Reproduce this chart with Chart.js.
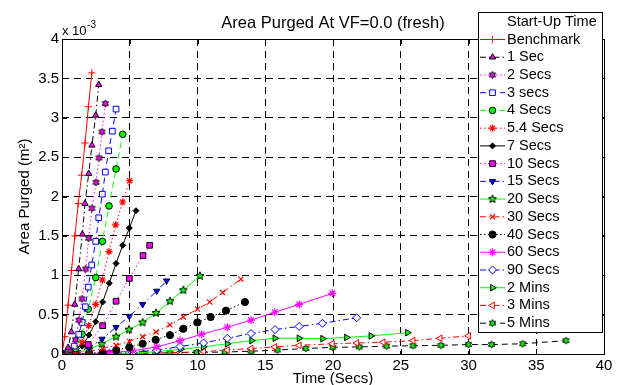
<!DOCTYPE html>
<html><head><meta charset="utf-8">
<script src="https://cdn.jsdelivr.net/npm/chart.js@4.4.0/dist/chart.umd.min.js"></script>
<style>html,body{margin:0;padding:0;background:#fff}</style>
</head><body>
<canvas id="c" width="619" height="385"></canvas>
<script>
// ---- data (y in units of 1e-3 m^2, x in seconds) ----
const xTicks = [0,5,10,15,20,25,30,35,40];
const yTicks = [0,0.5,1,1.5,2,2.5,3,3.5,4];
const xTickLabels = ['0','5','10','15','20','25','30','35','40'];
const yTickLabels = ['0','0.5','1','1.5','2','2.5','3','3.5','4'];
const seriesLabels = ['Benchmark','1 Sec','2 Secs','3 secs','4 Secs','5.4 Secs','7 Secs','10 Secs','15 Secs','20 Secs','30 Secs','40 Secs','60 Secs','90 Secs','2 Mins','3 Mins','5 Mins'];

const benchX = [0,0.2,0.45,0.7,0.95,1.2,1.45,1.7,1.95,2.2];
const benchY = [0,0.22,0.62,1.06,1.5,1.91,2.27,2.68,3.14,3.57];
const s1X = [0,0.45,0.69,0.94,1.23,1.5,1.7,1.97,2.21,2.49,2.71];
const s1Y = [0,0.08,0.28,0.63,1.08,1.52,1.91,2.29,2.65,3.03,3.42];
const s2X = [0,0.6,1.0,1.25,1.48,1.75,1.97,2.21,2.51,2.73,2.95,3.2];
const s2Y = [0,0.05,0.18,0.43,0.70,1.08,1.47,1.85,2.18,2.49,2.82,3.18];
const s3X = [0,0.9,1.23,1.48,1.72,1.94,2.19,2.49,2.71,2.98,3.2,3.44,3.72,3.99];
const s3Y = [0,0.1,0.25,0.40,0.60,0.85,1.13,1.43,1.73,2.03,2.31,2.58,2.83,3.11];
const s4X = [0,1.0,1.48,1.94,2.49,2.98,3.47,3.99,4.48];
const s4Y = [0,0.07,0.25,0.57,0.97,1.43,1.88,2.35,2.79];
const s54X = [0,1.0,1.48,1.97,2.49,2.98,3.47,3.96,4.48,4.99];
const s54Y = [0,0.04,0.15,0.36,0.63,0.94,1.30,1.64,1.93,2.20];
const s7X = [0,1.0,1.5,1.99,2.49,3.0,3.49,3.99,4.48,4.97,5.46];
const s7Y = [0,0.03,0.10,0.24,0.41,0.66,0.90,1.15,1.38,1.60,1.82];
const s10X = [0,1.0,1.94,3.0,3.99,4.97,5.98,6.47];
const s10Y = [0,0.02,0.12,0.36,0.67,0.96,1.25,1.38];
const s15X = [0,1.0,2.0,2.95,3.99,4.97,5.95,6.99,7.72];
const s15Y = [0,0.02,0.08,0.19,0.34,0.48,0.63,0.80,0.93];
const s20X = [0,1,2,2.93,3.99,4.94,5.95,6.94,7.97,8.95,10.18];
const s20Y = [0,0.01,0.06,0.13,0.22,0.31,0.40,0.52,0.67,0.81,0.99];
const s30X = [0,1,2,3,3.99,4.97,5.95,6.94,7.97,8.95,10.0,10.9,11.85,13.2];
const s30Y = [0,0.01,0.03,0.07,0.11,0.16,0.22,0.28,0.37,0.47,0.57,0.66,0.78,0.95];
const s40X = [0,1,2,3,4,4.97,5.95,6.91,7.97,8.95,9.99,10.97,12.1,13.5];
const s40Y = [0,0.005,0.01,0.02,0.05,0.085,0.13,0.18,0.24,0.32,0.40,0.47,0.55,0.66];
const s60X = [0,2,3.5,5.2,6.99,8.71,10.3,12.2,13.95,15.7,17.5,19.95];
const s60Y = [0,0.005,0.015,0.04,0.09,0.17,0.25,0.34,0.43,0.53,0.63,0.77];
const s90X = [0,3.5,5.2,6.99,8.71,10.45,12.2,13.95,15.72,17.5,19.22,21.75];
const s90Y = [0,0.005,0.02,0.05,0.095,0.14,0.20,0.26,0.31,0.35,0.39,0.46];
const m2X = [0,3.5,5.2,7.03,8.76,10.43,12.2,14.0,15.72,17.5,19.24,21.0,22.8,25.5];
const m2Y = [0,0.003,0.01,0.03,0.06,0.09,0.13,0.17,0.20,0.20,0.195,0.21,0.23,0.27];
const m3X = [0,5.2,7.0,8.7,10.45,12.2,13.95,15.7,17.5,19.95,21.75,23.7,25.9,27.9,30.0];
const m3Y = [0,0.005,0.01,0.02,0.03,0.05,0.07,0.09,0.11,0.13,0.14,0.15,0.17,0.20,0.23];
const m5X = [0,2,4,6,7.97,9.94,12.0,13.95,15.9,18.0,19.98,21.94,23.96,25.9,27.97,30.0,31.7,34.0,37.2];
const m5Y = [0,0.003,0.006,0.01,0.015,0.02,0.025,0.035,0.05,0.07,0.085,0.09,0.10,0.105,0.11,0.12,0.12,0.13,0.17];

const seriesX = [benchX,s1X,s2X,s3X,s4X,s54X,s7X,s10X,s15X,s20X,s30X,s40X,s60X,s90X,m2X,m3X,m5X];
const seriesY = [benchY,s1Y,s2Y,s3Y,s4Y,s54Y,s7Y,s10Y,s15Y,s20Y,s30Y,s40Y,s60Y,s90Y,m2Y,m3Y,m5Y];

// ---- styles ----
function starImg(n, outer, inner, fill, stroke){
  const s = Math.ceil(outer*2+3);
  const c = document.createElement('canvas'); c.width = s; c.height = s;
  const g = c.getContext('2d');
  g.beginPath();
  for (let k=0;k<2*n;k++){
    const r = k%2 ? inner : outer;
    const a = -Math.PI/2 + k*Math.PI/n;
    g.lineTo(s/2 + r*Math.cos(a), s/2 + r*Math.sin(a));
  }
  g.closePath(); g.fillStyle = fill; g.fill();
  g.strokeStyle = stroke; g.lineWidth = 1; g.stroke();
  return c;
}
const RED='#ff0000', BLK='#000000', MAG='#ff00ff', BLU='#0000ff', GRN='#00ff00';
const SOLID=[], DASH=[6,4], DOT=[1.5,2.5], DASHDOT=[6,3,1.5,3];
const hexMag = starImg(6,3.6,2.0,MAG,BLK);
const pentGrn = starImg(5,4.2,1.9,GRN,BLK);
const hexGrn = starImg(6,3.6,2.0,GRN,BLK);
const styles = [
  {c:RED, d:SOLID, ps:'cross', r:3.6, bg:RED, bc:RED, bw:1},
  {c:BLK, d:DASHDOT, ps:'triangle', r:3.6, bg:MAG, bc:BLK, bw:1},
  {c:MAG, d:DOT, ps:hexMag, r:3.5, bg:MAG, bc:BLK, bw:1},
  {c:BLU, d:DASH, ps:'rect', r:4, bg:'#ffffff', bc:BLU, bw:1},
  {c:GRN, d:DASH, ps:'circle', r:3.3, bg:GRN, bc:BLK, bw:1},
  {c:RED, d:DOT, ps:'star', r:3.6, bg:RED, bc:RED, bw:1.2},
  {c:BLK, d:SOLID, ps:'rectRot', r:3, bg:BLK, bc:BLK, bw:1},
  {c:MAG, d:DOT, ps:'rect', r:4, bg:MAG, bc:BLK, bw:1},
  {c:BLU, d:DASHDOT, ps:'triangle', r:3.6, rot:180, bg:BLU, bc:'#000040', bw:1},
  {c:GRN, d:SOLID, ps:pentGrn, r:3.6, bg:GRN, bc:BLK, bw:1},
  {c:RED, d:DASHDOT, ps:'crossRot', r:3.6, bg:RED, bc:RED, bw:1.2},
  {c:BLK, d:DOT, ps:'circle', r:3.6, bg:BLK, bc:BLK, bw:1},
  {c:MAG, d:SOLID, ps:'star', r:4, bg:MAG, bc:MAG, bw:1.2},
  {c:BLU, d:DASHDOT, ps:'rectRot', r:4, bg:'#ffffff', bc:BLU, bw:1},
  {c:GRN, d:SOLID, ps:'triangle', r:3.8, rot:90, bg:GRN, bc:BLK, bw:1},
  {c:RED, d:DASHDOT, ps:'triangle', r:3.8, rot:-90, bg:'#ffffff', bc:RED, bw:1},
  {c:BLK, d:DASH, ps:hexGrn, r:3.5, bg:GRN, bc:BLK, bw:1}
];

const datasets = seriesLabels.map((lab,i)=>{
  const st = styles[i];
  return {
    label: lab,
    data: seriesX[i].map((x,k)=>({x:x, y:seriesY[i][k]})),
    showLine: true, fill: false, tension: 0,
    borderColor: st.c, borderWidth: 1, borderDash: st.d,
    pointStyle: st.ps, pointRadius: st.r, pointRotation: st.rot||0,
    pointBackgroundColor: st.bg, pointBorderColor: st.bc, pointBorderWidth: st.bw,
    pointHoverRadius: st.r
  };
});

const FONT = '"Liberation Sans", Arial, Helvetica, sans-serif';

const decor = {
  id: 'decor',
  afterDraw(chart){
    const ctx = chart.ctx, a = chart.chartArea;
    const xs = chart.scales.x, ys = chart.scales.y;
    ctx.save();
    // frame
    ctx.setLineDash([]);
    ctx.strokeStyle = '#000'; ctx.lineWidth = 1;
    ctx.strokeRect(Math.round(a.left)+0.5, Math.round(a.top)+0.5, Math.round(a.right-a.left), Math.round(a.bottom-a.top));
    // inside ticks
    ctx.beginPath();
    xTicks.forEach(v=>{ const px = Math.round(xs.getPixelForValue(v))+0.5;
      ctx.moveTo(px, a.bottom); ctx.lineTo(px, a.bottom-5);
      ctx.moveTo(px, a.top); ctx.lineTo(px, a.top+5); });
    yTicks.forEach(v=>{ const py = Math.round(ys.getPixelForValue(v))+0.5;
      ctx.moveTo(a.left, py); ctx.lineTo(a.left+5, py);
      ctx.moveTo(a.right, py); ctx.lineTo(a.right-5, py); });
    ctx.stroke();
    // title
    ctx.fillStyle = '#000';
    ctx.font = '16.5px ' + FONT; ctx.textAlign = 'center'; ctx.textBaseline = 'alphabetic';
    ctx.fillText('Area Purged At VF=0.0 (fresh)', (a.left+a.right)/2, 27.5);
    // exponent
    ctx.textAlign = 'left';
    ctx.font = '13px ' + FONT; ctx.fillText('x 10', a.left, 35);
    const w = ctx.measureText('x 10').width;
    ctx.font = '10px ' + FONT; ctx.fillText('-3', a.left + w + 0.5, 28);
    // axis labels
    ctx.font = '15px ' + FONT; ctx.textAlign = 'center'; ctx.textBaseline = 'middle';
    ctx.fillText('Time (Secs)', (a.left+a.right)/2, 379);
    ctx.save(); ctx.translate(25, (a.top+a.bottom)/2); ctx.rotate(-Math.PI/2);
    ctx.fillText('Area Purged (m\u00B2)', 0, 0); ctx.restore();
    // legend
    const L = 478, T = 12, W = 124, H = 320;
    ctx.fillStyle = '#fff'; ctx.fillRect(L, T, W, H);
    ctx.strokeStyle = '#000'; ctx.lineWidth = 1; ctx.strokeRect(L+0.5, T+0.5, W, H);
    ctx.font = '14.5px ' + FONT; ctx.textAlign = 'left'; ctx.textBaseline = 'middle';
    ctx.fillStyle = '#000'; ctx.fillText('Start-Up Time', 507, 21.5);
    chart.data.datasets.forEach((ds,i)=>{
      const y = 39.5 + i*17.73;
      ctx.strokeStyle = ds.borderColor; ctx.lineWidth = 1; ctx.setLineDash(ds.borderDash);
      ctx.beginPath(); ctx.moveTo(480, y); ctx.lineTo(505, y); ctx.stroke();
      ctx.setLineDash([]);
      ctx.fillStyle = ds.pointBackgroundColor; ctx.strokeStyle = ds.pointBorderColor; ctx.lineWidth = ds.pointBorderWidth;
      Chart.helpers.drawPoint(ctx, {pointStyle: ds.pointStyle, rotation: ds.pointRotation, radius: ds.pointRadius, borderWidth: ds.pointBorderWidth}, 492.5, y);
      ctx.fillStyle = '#000'; ctx.fillText(ds.label, 507, y);
    });
    ctx.restore();
  }
};

new Chart(document.getElementById('c'), {
  type: 'scatter',
  data: { datasets },
  options: {
    responsive: false, animation: false, devicePixelRatio: 1,
    layout: { padding: { top: 39, right: 15, left: 0, bottom: 0 } },
    plugins: { legend: { display: false }, title: { display: false }, tooltip: { enabled: false } },
    scales: {
      x: {
        type: 'linear', min: 0, max: 40,
        afterFit(s){ s.height = 31; },
        afterBuildTicks(s){ s.ticks = xTicks.map(v=>({value:v})); },
        ticks: { font: { family: FONT, size: 15 }, color: '#000', padding: 3, maxRotation: 0, autoSkip: false,
          callback: (v)=> xTickLabels[xTicks.indexOf(v)] },
        grid: { color: '#000', lineWidth: 1, drawTicks: false },
        border: { display: false, dash: [7,5] }
      },
      y: {
        type: 'linear', min: 0, max: 4,
        afterFit(s){ s.width = 62; },
        afterBuildTicks(s){ s.ticks = yTicks.map(v=>({value:v})); },
        ticks: { font: { family: FONT, size: 15 }, color: '#000', padding: 3, autoSkip: false,
          callback: (v)=> yTickLabels[yTicks.indexOf(v)] },
        grid: { color: '#000', lineWidth: 1, drawTicks: false },
        border: { display: false, dash: [7,5] }
      }
    }
  },
  plugins: [decor]
});
</script>
</body></html>
